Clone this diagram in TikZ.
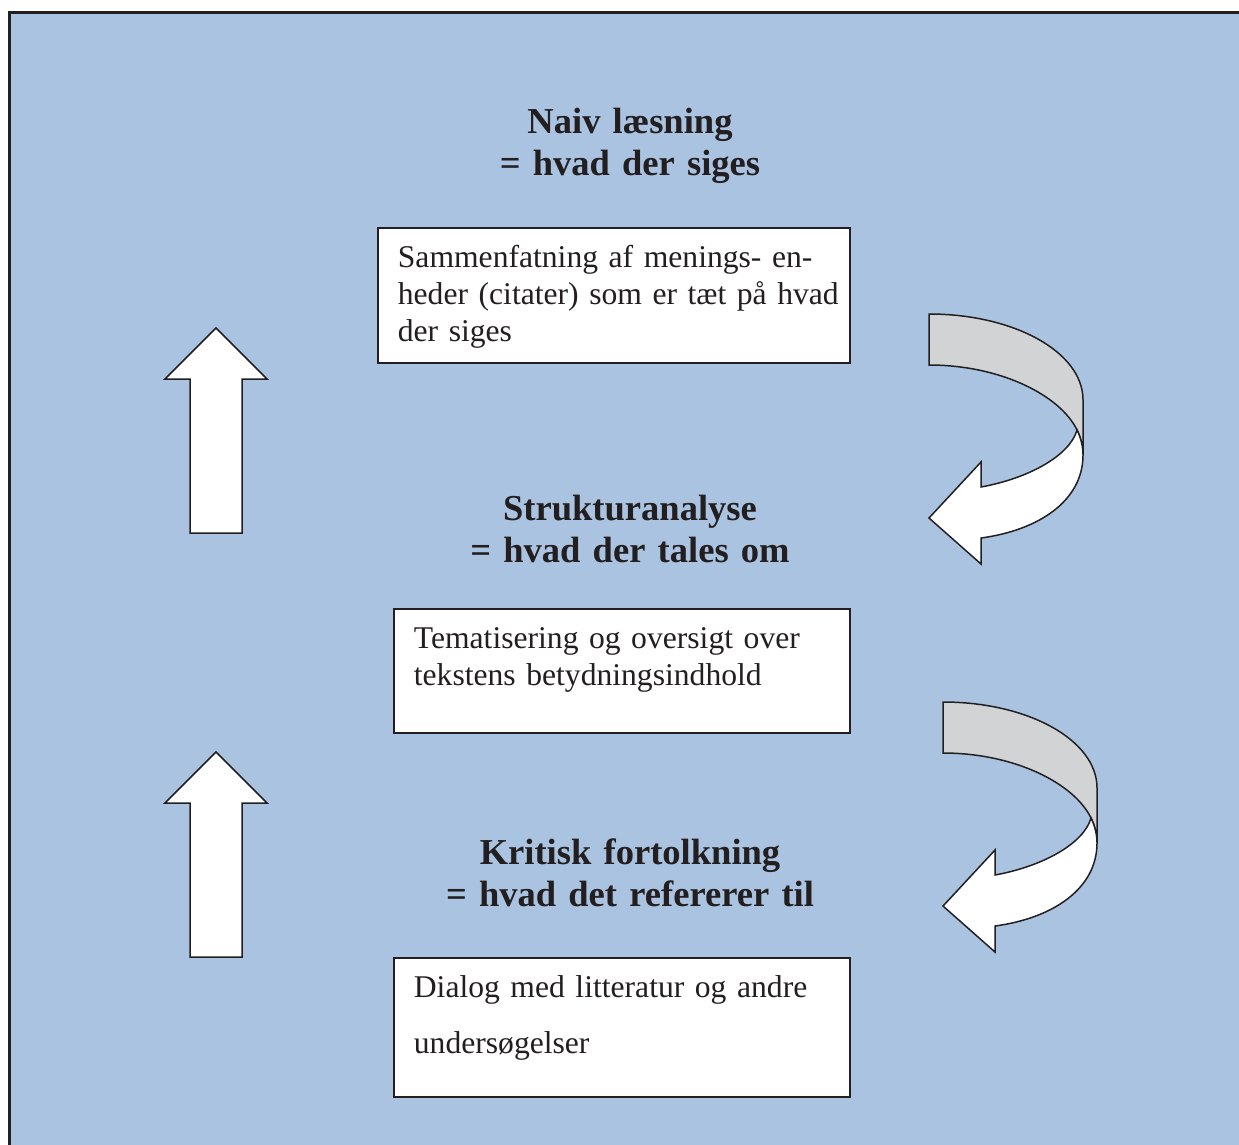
\documentclass[tikz,border=0pt]{standalone}
\usepackage{fontspec}
\setmainfont{Liberation Serif}
\definecolor{bgblue}{RGB}{169,195,224}
\definecolor{bandgray}{RGB}{209,211,212}
\definecolor{ink}{RGB}{35,31,32}
\tikzset{
  pics/uparr/.style={code={
    \draw[blockline,fill=white] (0,0) -- (51,51) -- (26,51) -- (26,205)
      -- (-26,205) -- (-26,51) -- (-51,51) -- cycle;}},
  pics/bendarr/.style={code={
    \draw[blockline,fill=bandgray] (0,0) .. controls (85,0) and (154,38) .. (154,86)
      -- (154,141) .. controls (154,133) and (152,124) .. (148,116)
      .. controls (131,81) and (71,51) .. (0,51) -- cycle;
    \draw[blockline,fill=white] (148,116) .. controls (152,124) and (154,133) .. (154,141)
      .. controls (154,186) and (111,216) .. (52,224) -- (52,250) -- (0,204)
      -- (52,148) -- (52,173) .. controls (101,164) and (141,141) .. (148,116) -- cycle;}},
}
\begin{document}
\begin{tikzpicture}[x=0.02cm,y=-0.02cm,
  title/.style={anchor=base,text width=12cm,align=center,text=ink,
    font=\fontsize{20.8}{24.3}\selectfont\bfseries},
  textbox/.style={draw=ink,line width=1pt,fill=white,anchor=north west,
    inner xsep=0.4cm,inner ysep=0pt,align=left,text=ink,
    font=\fontsize{18}{20.9}\selectfont},
  blockline/.style={draw=ink,line width=0.85pt,line join=miter},
  ]
\useasboundingbox (0,0) rectangle (1239,1144);
\clip (0,0) rectangle (1239,1144);
\draw[draw=ink,line width=1.2pt,fill=bgblue] (9.5,12.5) rectangle (1260,1170);

\node[title] (naiv) at (630,133) {Naiv læsning\\= hvad der siges};
\node[title] (struktur) at (630,520) {Strukturanalyse\\= hvad der tales om};
\node[title] (kritisk) at (630,864) {Kritisk fortolkning\\= hvad det refererer til};

\node[textbox,text width=8.64cm,text height=22.6pt,text depth=54.2pt] (summary) at (377,227)
  {Sammenfatning af menings- en-\\\mbox{heder (citater) som er tæt på hvad}\\der siges};
\node[textbox,text width=8.32cm,text height=22.8pt,text depth=47.8pt] (themes) at (393,608)
  {Tematisering og oversigt over\\tekstens betydningsindhold};
\node[textbox,text width=8.32cm,text height=22.6pt,text depth=56.5pt,
  font=\fontsize{18}{31.9}\selectfont] (dialog) at (393,957)
  {Dialog med litteratur og andre\\undersøgelser};

\pic at (216,328) {uparr};
\pic at (216,752) {uparr};
\pic at (929,314) {bendarr};
\pic at (943,702) {bendarr};

\end{tikzpicture}
\end{document}
